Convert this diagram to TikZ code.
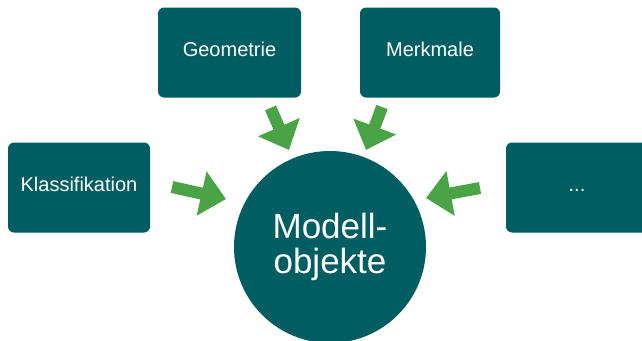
\documentclass[tikz,border=0pt]{standalone}
\usepackage{fontspec}
\setmainfont{Liberation Sans}
\usetikzlibrary{arrows.meta}
\definecolor{petrol}{RGB}{0,94,98}
\definecolor{pfeilgruen}{RGB}{74,163,68}
\tikzset{
	kasten/.style={rectangle, rounded corners=6pt, fill=petrol, text=white,
		minimum width=142pt, minimum height=90pt, text height=14pt, text depth=7pt,
		font=\fontsize{20}{24}\selectfont},
	blockpfeil/.style={draw=pfeilgruen, line width=12pt, -{Triangle[length=25pt,width=44pt]}}
}

\begin{document}
\begin{tikzpicture}[x=1pt,y=-1pt]
				\useasboundingbox (0,0) rectangle (642,340);
				\clip (0,0) rectangle (642,340);
				\node[kasten] (klass) at (79,187.5) {Klassifikation};
				\node[kasten, minimum width=143pt] (geo) at (229.5,52.5) {Geometrie};
				\node[kasten, minimum width=140pt] (merk) at (430,52.5) {Merkmale};
				\node[kasten] (etc) at (577,187.5) {...};
				\node[circle, fill=petrol, text=white, minimum size=192pt, align=center,
					font=\fontsize{35}{35}\selectfont] (obj) at (330,247) {Modell-\\objekte};
				% Pfeile zum Kreis
				\coordinate (kt) at (172,187);
				\coordinate (kh) at (226,199);
				\coordinate (gt) at (270.5,108);
				\coordinate (gh) at (289,150);
				\coordinate (mt) at (382,107);
				\coordinate (mh) at (366,150);
				\coordinate (et) at (480,188);
				\coordinate (eh) at (426,198);
				\draw[blockpfeil] (kt) -- (kh);
				\draw[blockpfeil] (gt) -- (gh);
				\draw[blockpfeil] (mt) -- (mh);
				\draw[blockpfeil] (et) -- (eh);
			\end{tikzpicture}
\end{document}
